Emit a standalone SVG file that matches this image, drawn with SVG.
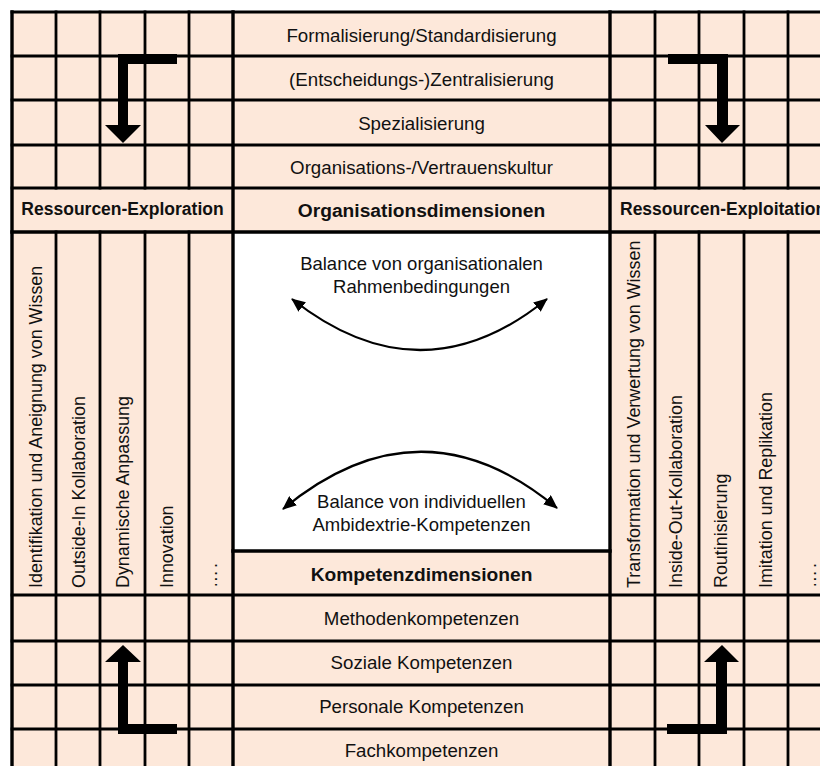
<svg xmlns="http://www.w3.org/2000/svg" width="820" height="766" viewBox="0 0 820 766">
<defs>
<style>
.bg{fill:#FDE8DA}
.g{stroke:#000;stroke-width:2.8;fill:none;stroke-linecap:square}
.gm{stroke:#000;stroke-width:3.4;fill:none;stroke-linecap:square}
.t{font-family:"Liberation Sans",Arial,sans-serif;font-size:18.7px;fill:#111;text-anchor:middle}
.tb{font-family:"Liberation Sans",Arial,sans-serif;font-size:19.2px;font-weight:bold;fill:#111;text-anchor:middle}
.ts{font-family:"Liberation Sans",Arial,sans-serif;font-size:17.5px;font-weight:bold;fill:#111}
.tv{font-family:"Liberation Sans",Arial,sans-serif;font-size:17.9px;fill:#111;text-anchor:start}
.tc{font-family:"Liberation Sans",Arial,sans-serif;font-size:18.5px;fill:#111;text-anchor:middle}
.arc{stroke:#000;stroke-width:2.2;fill:none}
.blk{fill:#000}
</style>
<marker id="ah" viewBox="0 0 14 12" refX="13" refY="6" markerWidth="14" markerHeight="12" markerUnits="userSpaceOnUse" orient="auto-start-reverse">
<path d="M0,0 L14,6 L0,12 Z" fill="#000"/>
</marker>
</defs>
<rect x="0" y="0" width="820" height="766" fill="#fff"/>
<rect class="bg" x="12" y="12" width="820" height="761"/>
<rect x="233" y="232" width="377" height="319" fill="#fff"/>

<g id="grid">
<path class="g" d="M12 12H832M12 56H832M12 100H832M12 145H832M12 188H832M12 595H832M12 641H832M12 685H832M12 729H832"/>
<path class="gm" d="M12 232H832M233 551H610"/>
<path class="g" d="M56 12V188M100 12V188M145 12V188M189 12V188M56 232V773M100 232V773M145 232V773M189 232V773"/>
<path class="g" d="M655 12V188M699 12V188M744 12V188M788 12V188M655 232V773M699 232V773M744 232V773M788 232V773"/>
<path class="gm" d="M12 12V773M233 12V773M610 12V773"/>
</g>

<g id="org-rows">
<g id="r1"><text class="t" x="421.5" y="41.5">Formalisierung/Standardisierung</text></g>
<g id="r2"><text class="t" x="421.5" y="85.5">(Entscheidungs-)Zentralisierung</text></g>
<g id="r3"><text class="t" x="421.5" y="129.5">Spezialisierung</text></g>
<g id="r4"><text class="t" x="421.5" y="173.5">Organisations-/Vertrauenskultur</text></g>
</g>

<g id="hdr-expl"><text class="ts" x="122.5" y="215" text-anchor="middle">Ressourcen-Exploration</text></g>
<g id="hdr-org"><text class="tb" x="421.5" y="217">Organisationsdimensionen</text></g>
<g id="hdr-expt"><text class="ts" x="620" y="215" text-anchor="start">Ressourcen-Exploitation</text></g>

<g id="left-cols">
<g id="l1"><text class="tv" transform="translate(41.5,588) rotate(-90)">Identifikation und Aneignung von Wissen</text></g>
<g id="l2"><text class="tv" transform="translate(84.5,588) rotate(-90)">Outside-In Kollaboration</text></g>
<g id="l3"><text class="tv" transform="translate(129,588) rotate(-90)">Dynamische Anpassung</text></g>
<g id="l4"><text class="tv" transform="translate(172.5,588) rotate(-90)">Innovation</text></g>
<g id="l5"><text class="tv" transform="translate(217,588) rotate(-90)" letter-spacing="2">….</text></g>
</g>

<g id="right-cols">
<g id="rc1"><text class="tv" transform="translate(639.5,588) rotate(-90)">Transformation und Verwertung von Wissen</text></g>
<g id="rc2"><text class="tv" transform="translate(682,588) rotate(-90)">Inside-Out-Kollaboration</text></g>
<g id="rc3"><text class="tv" transform="translate(727,588) rotate(-90)">Routinisierung</text></g>
<g id="rc4"><text class="tv" transform="translate(772,588) rotate(-90)">Imitation und Replikation</text></g>
<g id="rc5"><text class="tv" transform="translate(816,588) rotate(-90)" letter-spacing="2">….</text></g>
</g>

<g id="balance-org">
<text class="tc" x="421.5" y="269.5">Balance von organisationalen</text>
<text class="tc" x="421.5" y="292.5">Rahmenbedingungen</text>
</g>
<g id="balance-komp">
<text class="tc" x="421.5" y="507.5">Balance von individuellen</text>
<text class="tc" x="421.5" y="530.5">Ambidextrie-Kompetenzen</text>
</g>

<g id="hdr-komp"><text class="tb" x="421.5" y="581">Kompetenzdimensionen</text></g>

<g id="komp-rows">
<g id="k1"><text class="t" x="421.5" y="624.5">Methodenkompetenzen</text></g>
<g id="k2"><text class="t" x="421.5" y="669">Soziale Kompetenzen</text></g>
<g id="k3"><text class="t" x="421.5" y="713">Personale Kompetenzen</text></g>
<g id="k4"><text class="t" x="421.5" y="757">Fachkompetenzen</text></g>
</g>

<g id="connectors">
<path class="arc" d="M292 299 Q421 401 547 299" marker-start="url(#ah)" marker-end="url(#ah)"/>
<path class="arc" d="M283 509 Q421 395 557 508" marker-start="url(#ah)" marker-end="url(#ah)"/>
<polygon class="blk" points="177,54 118,54 118,125 105,125 123,143 141,125 128,125 128,64 177,64"/>
<polygon class="blk" points="668,54 728,54 728,125 740,125 722,143 705,125 717,125 717,64 668,64"/>
<polygon class="blk" points="177,734 118,734 118,662 105,662 123,645 141,662 128,662 128,724 177,724"/>
<polygon class="blk" points="667,734 727,734 727,662 739,662 722,645 704,662 716,662 716,724 667,724"/>
</g>
</svg>
